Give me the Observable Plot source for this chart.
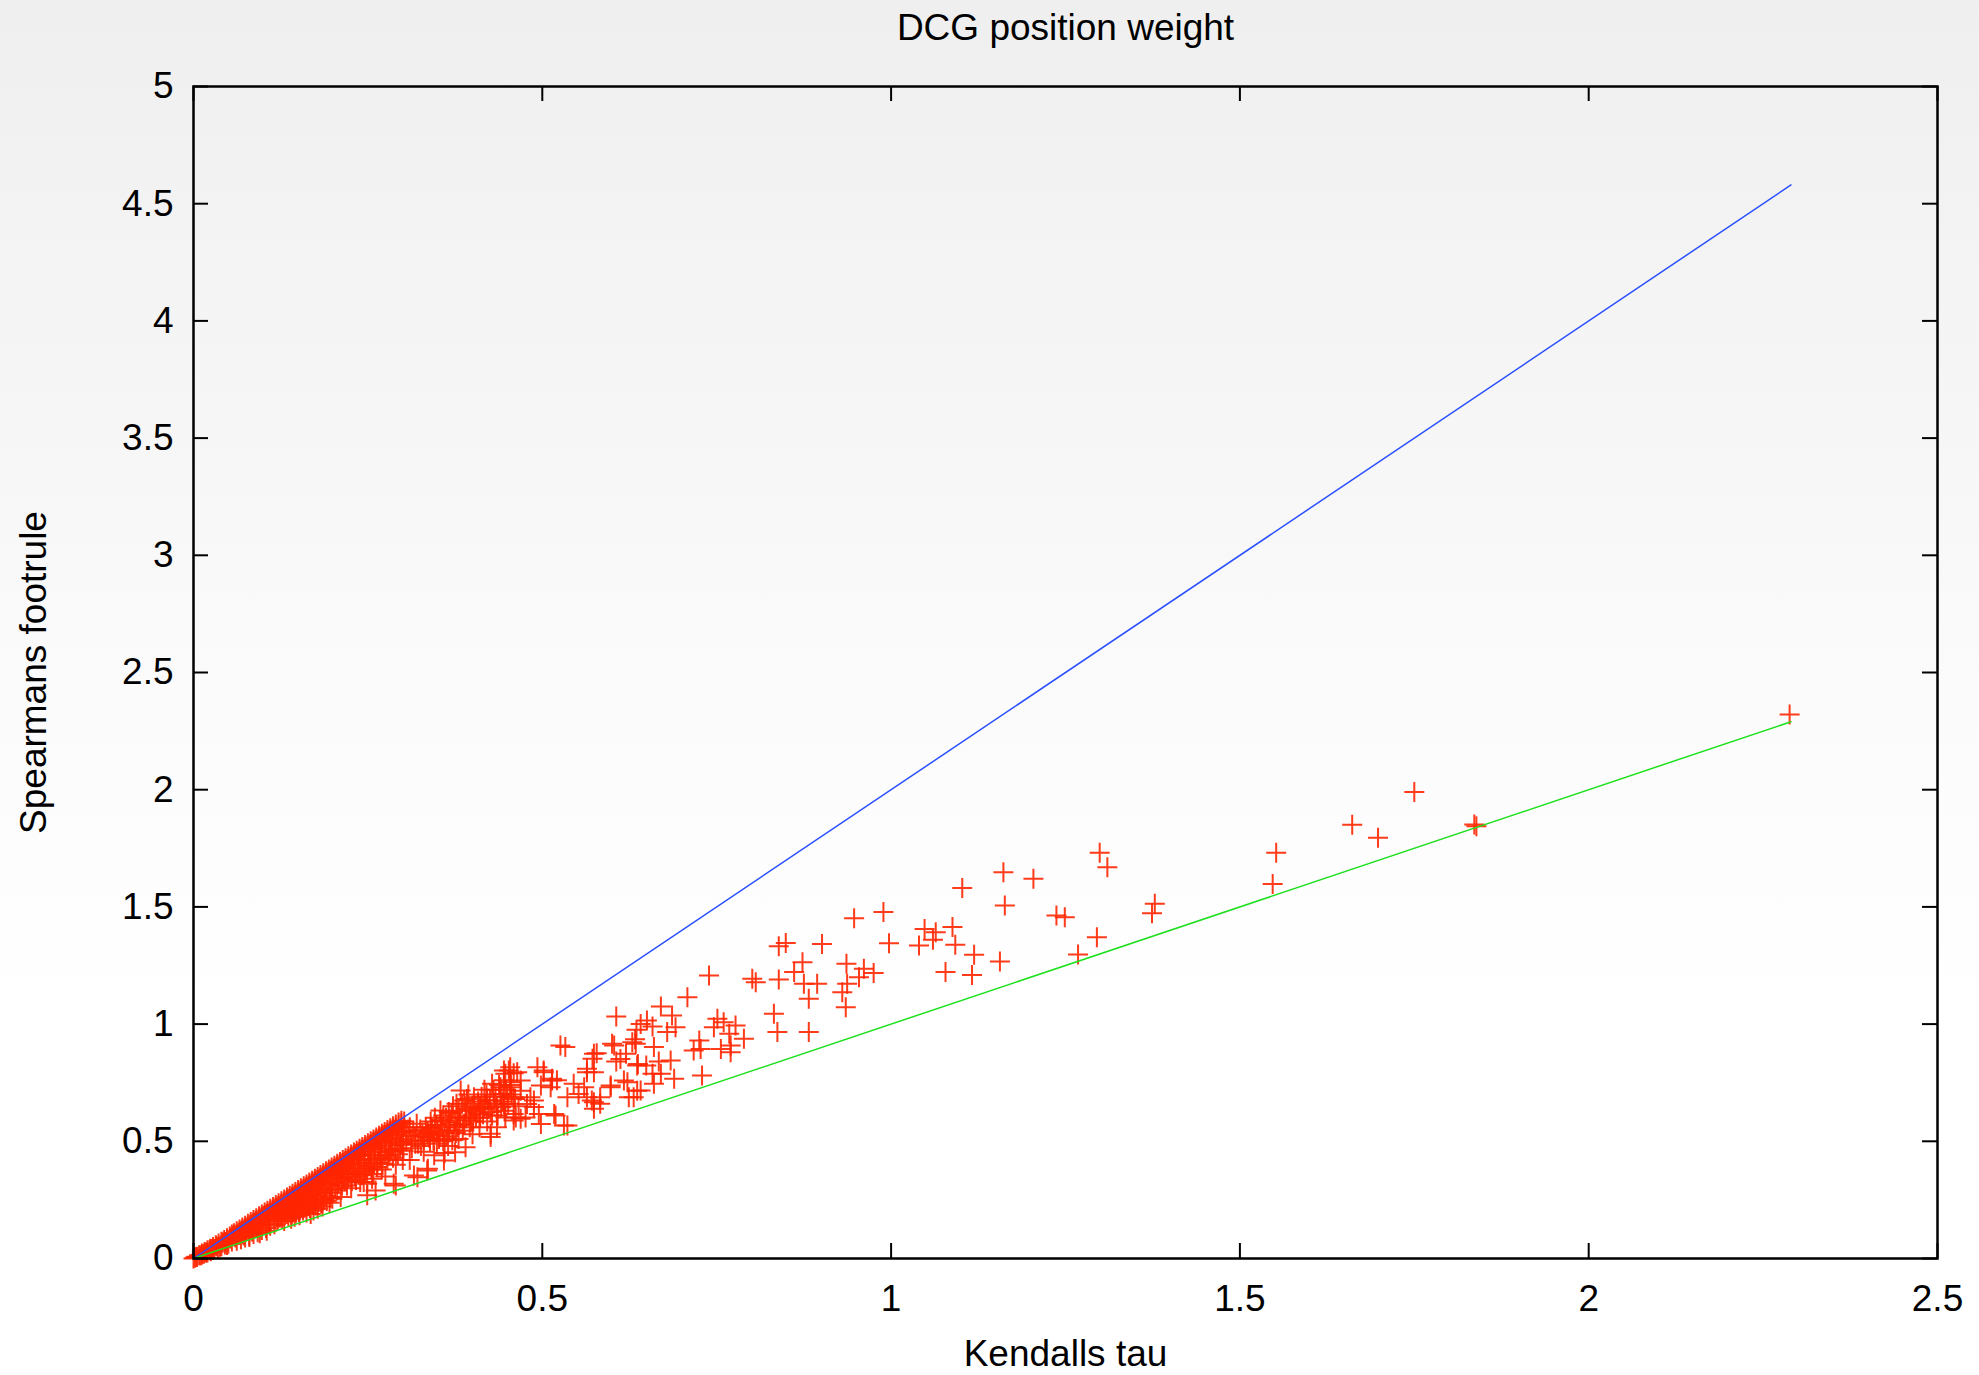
<!DOCTYPE html>
<html><head><meta charset="utf-8">
<script src="https://cdn.jsdelivr.net/npm/d3@7"></script>
<script src="https://cdn.jsdelivr.net/npm/@observablehq/plot@0.6"></script>
<style>
html,body{margin:0;padding:0;overflow:hidden;background:#fff;}
#chart svg{display:block;}
</style></head><body><div id="chart"></div>
<script>
const W = 1979, H = 1375;
const mL = 193, mR = 42, mT = 86, mB = 117;
const innerW = W - mL - mR, innerH = H - mT - mB;

const titleText = "DCG position weight";
const xLabel = "Kendalls tau";
const yLabel = "Spearmans footrule";
const xTicks = [0, 0.5, 1, 1.5, 2, 2.5];
const yTicks = [0, 0.5, 1, 1.5, 2, 2.5, 3, 3.5, 4, 4.5, 5];
const xTickLabels = ["0", "0.5", "1", "1.5", "2", "2.5"];
const yTickLabels = ["0", "0.5", "1", "1.5", "2", "2.5", "3", "3.5", "4", "4.5", "5"];

// reference lines (end points)
const upperBound = [[0, 0], [2.29, 4.58]];
const lowerBound = [[0, 0], [2.29, 2.29]];

// scatter points [Kendall tau, Spearman footrule]
const originBand = [
[0,0],[0.004,0.007],[0.008,0.014],[0.012,0.021],[0.016,0.028],[0.020,0.035],[0.024,0.042],[0.028,0.049],[0.032,0.057],[0.036,0.064],[0.040,0.071],[0.044,0.079],[0.048,0.086],[0.052,0.094],[0.055,0.102],
[0.005,0.006],[0.010,0.013],[0.015,0.020],[0.020,0.026],[0.025,0.031],[0.030,0.040],[0.035,0.044],[0.040,0.052],[0.045,0.060],[0.050,0.063],[0.055,0.072],[0.012,0.016],[0.018,0.025],[0.028,0.036],[0.038,0.050],[0.048,0.058],[0.042,0.068],[0.033,0.052],[0.023,0.035],[0.053,0.085],[0.002,0.003],[0.026,0.040],[0.046,0.070]
];
const ridge = [
[0.058,0.108],[0.062,0.116],[0.066,0.124],[0.070,0.132],[0.074,0.140],[0.078,0.148],[0.082,0.156],[0.086,0.164],[0.090,0.172],[0.094,0.180],[0.098,0.188],[0.102,0.196],[0.106,0.204],[0.110,0.212],[0.114,0.220],[0.118,0.228],
[0.122,0.236],[0.126,0.244],[0.130,0.252],[0.134,0.260],[0.138,0.268],[0.142,0.276],[0.146,0.284],[0.150,0.292],[0.154,0.300],[0.158,0.308],[0.162,0.316],[0.166,0.324],[0.170,0.332],[0.174,0.340],[0.178,0.348],[0.182,0.356],[0.186,0.364],[0.190,0.372],[0.194,0.380],[0.198,0.388],
[0.202,0.396],[0.206,0.404],[0.210,0.412],[0.214,0.420],[0.218,0.428],[0.222,0.436],[0.226,0.444],[0.230,0.452],[0.234,0.460],[0.238,0.468],[0.242,0.476],[0.246,0.484],[0.250,0.492],[0.254,0.500],[0.258,0.508],[0.262,0.516],[0.266,0.524],[0.270,0.532],[0.274,0.540],[0.278,0.548],[0.282,0.556],[0.286,0.564],[0.290,0.572],[0.294,0.580],[0.298,0.588]
];
const lowBand = [
[0.058,0.095],[0.062,0.103],[0.066,0.111],[0.070,0.120],[0.074,0.128],[0.078,0.136],[0.082,0.144],[0.086,0.152],[0.090,0.160],[0.094,0.168],[0.098,0.176],[0.102,0.184],[0.106,0.192],[0.110,0.200],[0.114,0.208],[0.118,0.216],
[0.060,0.090],[0.065,0.100],[0.070,0.105],[0.075,0.118],[0.080,0.125],[0.085,0.135],[0.090,0.142],[0.095,0.150],[0.100,0.160],[0.105,0.170],[0.110,0.178],[0.115,0.186],[0.120,0.195],[0.068,0.112],[0.078,0.130],[0.088,0.148],[0.098,0.168],[0.108,0.188],[0.118,0.205],
[0.062,0.076],[0.068,0.082],[0.074,0.090],[0.080,0.098],[0.086,0.104],[0.092,0.112],[0.098,0.122],[0.104,0.130],[0.110,0.140],[0.116,0.146],[0.072,0.098],[0.084,0.115],[0.096,0.132],[0.108,0.150],[0.120,0.160],[0.080,0.092],[0.095,0.108],[0.105,0.118]
];
const midBand = [
[0.122,0.224],[0.126,0.232],[0.130,0.240],[0.134,0.248],[0.138,0.256],[0.142,0.264],[0.146,0.272],[0.150,0.280],[0.154,0.288],[0.158,0.296],[0.162,0.304],[0.166,0.312],[0.170,0.320],[0.174,0.328],[0.178,0.336],[0.182,0.344],[0.186,0.352],[0.190,0.360],[0.194,0.368],[0.198,0.376],
[0.125,0.215],[0.130,0.225],[0.135,0.234],[0.140,0.244],[0.145,0.254],[0.150,0.262],[0.155,0.272],[0.160,0.282],[0.165,0.290],[0.170,0.300],[0.175,0.310],[0.180,0.318],[0.185,0.328],[0.190,0.338],[0.195,0.346],[0.200,0.356],
[0.123,0.200],[0.128,0.208],[0.133,0.215],[0.138,0.222],[0.143,0.230],[0.148,0.238],[0.153,0.248],[0.158,0.256],[0.163,0.265],[0.168,0.272],[0.173,0.282],[0.178,0.290],[0.183,0.298],[0.188,0.306],[0.193,0.316],[0.198,0.325],
[0.126,0.182],[0.134,0.190],[0.142,0.200],[0.150,0.212],[0.158,0.222],[0.166,0.232],[0.174,0.244],[0.182,0.256],[0.190,0.268],[0.198,0.280],
[0.130,0.160],[0.140,0.170],[0.152,0.185],[0.162,0.196],[0.172,0.205],[0.185,0.222],[0.195,0.238],[0.145,0.178],[0.178,0.212],[0.168,0.190],
[0.121,0.170],[0.124,0.175],[0.127,0.172],[0.131,0.185],[0.136,0.180],[0.139,0.195],[0.141,0.188],[0.144,0.205],[0.147,0.195],[0.151,0.198],[0.154,0.215],[0.157,0.205],[0.160,0.218],[0.164,0.225],[0.167,0.215],[0.171,0.232],[0.175,0.226],[0.179,0.240],[0.183,0.235],[0.187,0.250],[0.191,0.245],[0.196,0.260],[0.199,0.255],[0.132,0.205],[0.146,0.222],[0.156,0.236],[0.167,0.252],[0.176,0.265],[0.186,0.280],[0.196,0.295]
];
const highBand = [
[0.202,0.384],[0.206,0.392],[0.210,0.400],[0.214,0.408],[0.218,0.416],[0.222,0.424],[0.226,0.432],[0.230,0.440],[0.234,0.448],[0.238,0.456],[0.242,0.464],[0.246,0.472],[0.250,0.480],[0.254,0.488],[0.258,0.496],[0.262,0.504],[0.266,0.512],[0.270,0.520],[0.274,0.528],[0.278,0.536],[0.282,0.544],[0.286,0.552],[0.290,0.560],[0.294,0.568],[0.298,0.576],[0.302,0.584],
[0.205,0.368],[0.210,0.378],[0.215,0.386],[0.220,0.398],[0.225,0.405],[0.230,0.418],[0.235,0.425],[0.240,0.438],[0.245,0.445],[0.250,0.458],[0.255,0.465],[0.260,0.475],[0.265,0.483],[0.270,0.493],[0.275,0.500],[0.280,0.510],[0.285,0.517],[0.290,0.527],[0.295,0.537],[0.300,0.544],
[0.204,0.350],[0.212,0.360],[0.220,0.372],[0.228,0.385],[0.236,0.398],[0.244,0.410],[0.252,0.420],[0.260,0.440],[0.268,0.452],[0.276,0.470],[0.284,0.482],[0.292,0.498],[0.300,0.510],[0.215,0.338],[0.232,0.360],[0.248,0.385],[0.264,0.410],[0.280,0.440],[0.296,0.468],
[0.206,0.290],[0.211,0.262],[0.220,0.311],[0.239,0.326],[0.249,0.270],[0.249,0.319],[0.256,0.340],[0.261,0.290],[0.287,0.319],[0.290,0.311],[0.244,0.326],[0.270,0.380],[0.290,0.400],[0.275,0.350],[0.226,0.300],[0.300,0.420],
[0.203,0.300],[0.207,0.320],[0.213,0.310],[0.217,0.330],[0.222,0.345],[0.227,0.330],[0.231,0.350],[0.236,0.370],[0.241,0.355],[0.246,0.372],[0.251,0.395],[0.255,0.380],[0.259,0.405],[0.263,0.390],[0.267,0.425],[0.271,0.405],[0.274,0.440],[0.278,0.420],[0.282,0.455],[0.286,0.430],[0.289,0.465],[0.293,0.445],[0.297,0.485],[0.301,0.460],[0.209,0.342],[0.224,0.362],[0.238,0.382],[0.253,0.405],[0.268,0.432],[0.283,0.462],[0.298,0.492],[0.258,0.360],[0.233,0.335]
];
const bendCluster = [
[0.302,0.560],[0.305,0.540],[0.308,0.525],[0.310,0.560],[0.312,0.500],[0.315,0.545],[0.318,0.520],[0.320,0.575],[0.322,0.490],[0.325,0.550],[0.328,0.530],[0.330,0.505],[0.333,0.560],[0.336,0.540],[0.338,0.515],[0.340,0.585],[0.342,0.555],[0.345,0.530],[0.348,0.570],[0.350,0.545],[0.352,0.510],[0.355,0.590],[0.357,0.560],[0.360,0.535],[0.362,0.600],[0.365,0.570],[0.367,0.545],[0.370,0.620],[0.372,0.650],[0.375,0.590],[0.378,0.560],[0.380,0.630],[0.382,0.600],[0.385,0.660],[0.388,0.575],[0.390,0.640],[0.392,0.680],[0.395,0.610],[0.398,0.590],[0.400,0.650],[0.403,0.630],[0.405,0.600],[0.408,0.670],[0.410,0.640],[0.413,0.690],[0.415,0.615],[0.418,0.660],[0.420,0.700],[0.423,0.640],[0.425,0.675],[0.428,0.610],[0.430,0.720],[0.433,0.690],[0.435,0.650],[0.438,0.740],[0.440,0.700],[0.443,0.670],[0.445,0.760],[0.448,0.720],[0.450,0.690],[0.447,0.788],[0.454,0.816],[0.459,0.790],[0.455,0.740],[0.440,0.731],[0.454,0.752],[0.469,0.716],[0.459,0.617],[0.469,0.596],[0.435,0.560],[0.426,0.532],[0.388,0.674],[0.397,0.631],[0.378,0.603],[0.373,0.546],[0.354,0.589],[0.340,0.560],[0.402,0.688],[0.411,0.646],[0.421,0.674],[0.445,0.702],[0.383,0.717],[0.354,0.631],[0.335,0.532],
[0.316,0.354],[0.336,0.383],[0.359,0.418],[0.375,0.453],[0.390,0.475],[0.426,0.518],[0.459,0.589],[0.321,0.347],[0.335,0.375],[0.345,0.440],[0.365,0.480],[0.380,0.510],[0.400,0.530],[0.410,0.560],[0.330,0.455],[0.310,0.420],[0.360,0.450],
[0.305,0.500],[0.313,0.470],[0.318,0.490],[0.326,0.480],[0.331,0.520],[0.339,0.500],[0.344,0.505],[0.349,0.490],[0.353,0.525],[0.358,0.500],[0.363,0.520],[0.368,0.580],[0.371,0.505],[0.376,0.535],[0.381,0.570],[0.386,0.545],[0.391,0.600],[0.396,0.560],[0.401,0.585],[0.406,0.620],[0.411,0.600],[0.416,0.640],[0.421,0.585],[0.426,0.625],[0.431,0.660],[0.436,0.610],[0.441,0.645],[0.446,0.630],[0.451,0.660],[0.456,0.700],[0.461,0.680],[0.466,0.650],[0.346,0.600],[0.358,0.610],[0.366,0.625],[0.377,0.660],[0.394,0.700],[0.417,0.720],[0.428,0.745]
];
const spreadCluster = [
[0.739,1.207],[0.708,1.115],[0.670,1.075],[0.686,1.037],[0.606,1.032],[0.650,1.015],[0.635,0.976],[0.658,0.990],[0.691,0.987],[0.679,0.966],[0.751,1.023],[0.760,1.008],[0.746,0.987],[0.777,0.994],[0.768,0.959],[0.770,0.909],[0.789,0.937],[0.770,0.880],[0.756,0.894],[0.727,0.894],[0.717,0.887],[0.725,0.930],[0.729,0.781],[0.689,0.767],[0.684,0.845],[0.667,0.840],[0.658,0.788],[0.660,0.902],[0.634,0.916],[0.629,0.923],[0.620,0.873],[0.603,0.909],[0.606,0.840],[0.649,0.823],[0.637,0.830],[0.578,0.876],[0.572,0.852],[0.526,0.909],[0.533,0.902],[0.564,0.795],[0.598,0.738],[0.622,0.752],[0.631,0.688],[0.641,0.717],[0.583,0.688],[0.514,0.759],[0.498,0.738],[0.519,0.610],[0.536,0.567],[0.498,0.574],[0.462,0.602],[0.478,0.659],[0.469,0.759],[0.454,0.731],[0.445,0.802],[0.488,0.674],[0.502,0.802],[0.545,0.745],[0.564,0.688],[0.574,0.667],[0.552,0.702],[0.512,0.731],[0.459,0.688],[0.445,0.659],[0.447,0.602],[0.476,0.602],
[0.574,0.873],[0.600,0.916],[0.612,0.851],[0.633,0.935],[0.641,1.000],[0.636,0.823],[0.670,0.788],[0.493,0.816],[0.502,0.795],[0.514,0.767],[0.521,0.760],[0.452,0.802],[0.464,0.795],[0.564,0.809],[0.574,0.795],[0.560,0.731],[0.536,0.688],[0.598,0.731],[0.571,0.674],[0.583,0.660],[0.617,0.759],[0.624,0.688],[0.636,0.716],[0.660,0.745],[0.574,0.639],[0.531,0.567],[0.517,0.617],[0.488,0.646],[0.495,0.617],[0.483,0.688]
];
const sparseTail = [
[1.102,1.581],[0.947,1.452],[0.989,1.478],[1.048,1.406],[1.064,1.392],[1.088,1.414],[1.060,1.360],[1.040,1.335],[1.092,1.338],[0.997,1.345],[0.901,1.342],[1.119,1.296],[1.078,1.222],[1.116,1.210],[0.839,1.332],[0.849,1.346],[0.873,1.264],[0.861,1.222],[0.875,1.172],[0.894,1.172],[0.882,1.108],[0.936,1.257],[0.937,1.172],[0.961,1.236],[0.954,1.200],[0.975,1.218],[0.930,1.136],[0.935,1.072],[0.882,0.966],[0.837,0.966],[0.832,1.044],[0.801,1.193],[0.806,1.179],[0.839,1.190],
[1.750,1.990],[1.661,1.850],[1.698,1.795],[1.839,1.844],[1.836,1.852],[1.552,1.731],[1.547,1.598],[1.299,1.731],[1.310,1.669],[1.161,1.648],[1.204,1.620],[1.163,1.506],[1.237,1.463],[1.249,1.456],[1.378,1.513],[1.374,1.473],[1.156,1.267],[1.295,1.371],[1.268,1.297],[2.288,2.321]
];

const points = [...originBand, ...ridge, ...lowBand, ...midBand, ...highBand, ...bendCluster, ...spreadCluster, ...sparseTail]
  .map(([tau, foot]) => ({tau, foot}));

// thin "+" symbol like gnuplot's point type 1
const plusSymbol = {
  draw(context, size) {
    const r = Math.sqrt(size / Math.PI);
    context.moveTo(-r, 0); context.lineTo(r, 0);
    context.moveTo(0, -r); context.lineTo(0, r);
  }
};

const font = '"Liberation Sans", Arial, Helvetica, sans-serif';
const fs = 37;

const chart = Plot.plot({
  width: W, height: H,
  marginLeft: mL, marginRight: mR, marginTop: mT, marginBottom: mB,
  style: {
    background: "linear-gradient(to bottom, #efefef 0%, #f6f6f6 30%, #fcfcfc 55%, #ffffff 75%, #ffffff 100%)",
    fontFamily: font, fontSize: fs + "px", color: "#000", overflow: "visible"
  },
  x: {type: "linear", domain: [0, 2.5]},
  y: {type: "linear", domain: [0, 5]},
  marks: [
    Plot.dot(points, {x: "tau", y: "foot", symbol: plusSymbol, r: 10, stroke: "#ff2600", fill: "none", strokeWidth: 2, strokeOpacity: 0.9}),
    Plot.line(upperBound, {x: d => d[0], y: d => d[1], stroke: "#2a50ff", strokeWidth: 1.5}),
    Plot.line(lowerBound, {x: d => d[0], y: d => d[1], stroke: "#1fe01f", strokeWidth: 1.5}),
    Plot.ruleX(xTicks, {x: d => d, insetTop: innerH - 15, stroke: "#000", strokeWidth: 2}),
    Plot.ruleX(xTicks, {x: d => d, insetBottom: innerH - 15, stroke: "#000", strokeWidth: 2}),
    Plot.ruleY(yTicks, {y: d => d, insetRight: innerW - 15, stroke: "#000", strokeWidth: 2}),
    Plot.ruleY(yTicks, {y: d => d, insetLeft: innerW - 15, stroke: "#000", strokeWidth: 2}),
    Plot.frame({stroke: "#000", strokeWidth: 2.5}),
    Plot.axisX(xTicks, {anchor: "bottom", tickSize: 0, tickPadding: 26, label: null,
      tickFormat: d => xTickLabels[xTicks.indexOf(d)], fontSize: fs, fontFamily: font, fill: "#000"}),
    Plot.axisY(yTicks, {anchor: "left", tickSize: 0, tickPadding: 20, label: null,
      tickFormat: d => yTickLabels[yTicks.indexOf(d)], fontSize: fs, fontFamily: font, fill: "#000"}),
    Plot.text([titleText], {frameAnchor: "top", dy: -58, lineAnchor: "middle", textAnchor: "middle", fontSize: fs, fontFamily: font, fill: "#000"}),
    Plot.text([xLabel], {frameAnchor: "bottom", dy: 96, lineAnchor: "middle", textAnchor: "middle", fontSize: fs, fontFamily: font, fill: "#000"}),
    Plot.text([yLabel], {frameAnchor: "left", dx: -159, rotate: -90, lineAnchor: "middle", textAnchor: "middle", fontSize: fs, fontFamily: font, fill: "#000"})
  ]
});
document.getElementById("chart").appendChild(chart);
</script>
</body></html>
